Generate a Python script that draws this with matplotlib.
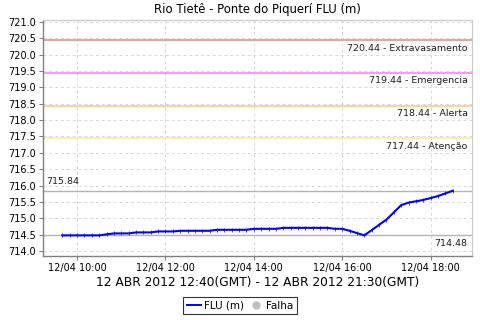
import datetime as dt

import matplotlib
matplotlib.use("Agg")
import matplotlib.pyplot as plt
import matplotlib.dates as mdates
from matplotlib.lines import Line2D


# leituras a cada 10 minutos, 12/04/2012 09:40 - 18:30 (hora local)
inicio = dt.datetime(2012, 4, 12, 9, 40)
niveis = [
    714.48, 714.48, 714.48, 714.48, 714.48, 714.48,
    714.51, 714.54, 714.54, 714.54, 714.57, 714.57,
    714.57, 714.60, 714.60, 714.60, 714.62, 714.62,
    714.62, 714.62, 714.62, 714.65, 714.65, 714.65,
    714.65, 714.65, 714.68, 714.68, 714.68, 714.68,
    714.71, 714.71, 714.71, 714.71, 714.71, 714.71,
    714.71, 714.68, 714.68, 714.62, 714.55, 714.48,
    714.64, 714.80, 714.96, 715.18, 715.40, 715.48,
    715.52, 715.56, 715.62, 715.68, 715.76, 715.84,
]
tempos = [inicio + dt.timedelta(minutes=10 * i) for i in range(len(niveis))]

cotas = [720.44, 719.44, 718.44, 717.44]
nomes_cotas = ["Extravasamento", "Emergencia", "Alerta", "Atenção"]
cores_cotas = ["#f08c8c", "#ff80ff", "#ffc890", "#f8ec9c"]

TITULO = "Rio Tietê - Ponte do Piquerí FLU (m)"
PERIODO = "12 ABR 2012 12:40(GMT) - 12 ABR 2012 21:30(GMT)"


def main():
    fig = plt.figure(figsize=(4.8, 3.2), dpi=100)
    ax = fig.add_axes([0.090, 0.200, 0.893, 0.739])

    ax.set_xlim(dt.datetime(2012, 4, 12, 9, 14), dt.datetime(2012, 4, 12, 18, 56))
    ax.set_ylim(713.85, 721.07)

    ax.grid(True, color="#d8d8d8", linestyle=(0, (3, 3)), linewidth=0.7, zorder=0)

    for valor, nome, cor in zip(cotas, nomes_cotas, cores_cotas):
        ax.axhline(valor, color=cor, linewidth=1.2, zorder=2)
        ax.annotate(
            f"{valor:.2f} - {nome}",
            (1, valor),
            xycoords=("axes fraction", "data"),
            xytext=(-3, -2.5),
            textcoords="offset points",
            ha="right",
            va="top",
            fontsize=6.8,
            color="#202020",
        )

    maximo = max(niveis)
    minimo = min(niveis)
    ax.axhline(maximo, color="#b4b4b4", linewidth=1.0, zorder=2)
    ax.axhline(minimo, color="#b4b4b4", linewidth=1.0, zorder=2)
    ax.annotate(
        f"{maximo:.2f}",
        (0, maximo),
        xycoords=("axes fraction", "data"),
        xytext=(2, 3.5),
        textcoords="offset points",
        ha="left",
        va="bottom",
        fontsize=6.8,
        color="#202020",
    )
    ax.annotate(
        f"{minimo:.2f}",
        (1, minimo),
        xycoords=("axes fraction", "data"),
        xytext=(-3, -2.5),
        textcoords="offset points",
        ha="right",
        va="top",
        fontsize=6.8,
        color="#202020",
    )

    ax.plot(
        tempos,
        niveis,
        color="#0000ff",
        linewidth=1.5,
        marker="|",
        markersize=2.5,
        markeredgewidth=0.5,
        zorder=3,
    )

    ax.xaxis.set_major_locator(mdates.HourLocator(byhour=range(0, 24, 2)))
    ax.xaxis.set_major_formatter(mdates.DateFormatter("%d/%m %H:%M"))
    ax.set_yticks([714.0 + 0.5 * i for i in range(15)])
    ax.yaxis.set_major_formatter(plt.FormatStrFormatter("%.1f"))
    ax.tick_params(labelsize=7, length=3, color="#808080", pad=2)

    for lado in ("left", "bottom"):
        ax.spines[lado].set_color("#808080")
        ax.spines[lado].set_linewidth(1.0)
    for lado in ("top", "right"):
        ax.spines[lado].set_color("#c8c8c8")
        ax.spines[lado].set_linewidth(0.8)

    ax.set_title(TITULO, fontsize=8.4, pad=5)
    ax.set_xlabel(PERIODO, fontsize=8.8, labelpad=2)

    handles = [
        Line2D([], [], color="#0000ff", linewidth=1.4),
        Line2D([], [], color="#c0c0c0", marker="o", linestyle="none", markersize=5),
    ]
    leg = fig.legend(
        handles,
        ["FLU (m)", "Falha"],
        loc="center",
        bbox_to_anchor=(0.5, 0.045),
        ncol=2,
        fontsize=7.5,
        frameon=True,
        fancybox=False,
        edgecolor="black",
        handlelength=1.4,
        handletextpad=0.3,
        columnspacing=0.4,
        borderpad=0.35,
    )
    leg.get_frame().set_linewidth(0.8)

    fig.savefig("out.png", dpi=100)
    plt.close(fig)


if __name__ == "__main__":
    main()
